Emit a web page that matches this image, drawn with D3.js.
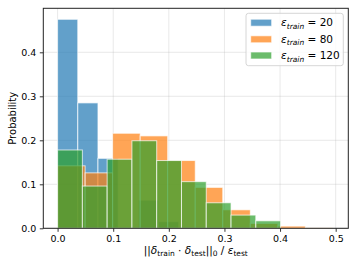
<!DOCTYPE html>
<html>
<head>
<meta charset="utf-8">
<script src="https://cdn.jsdelivr.net/npm/d3@7"></script>
<style>
  body { margin: 0; background: #fff; }
  svg { display: block; font-family: "DejaVu Sans", sans-serif; }
</style>
</head>
<body>
<svg id="chart" width="357" height="268"></svg>
<script>
// ---- data ----
const seriesNames = ["20", "80", "120"];
const seriesColors = ["#1f77b4", "#ff7f0e", "#2ca02c"];

const edgesBlue = [0, 0.0363, 0.0726, 0.1089, 0.1452, 0.1815, 0.2178];
const probBlue = [0.475, 0.285, 0.159, 0.0, 0.064, 0.015];

const edgesOrange = [0, 0.0495, 0.099, 0.1485, 0.198, 0.2475, 0.297, 0.3465, 0.396, 0.4455, 0.495];
const probOrange = [0.142, 0.126, 0.216, 0.210, 0.154, 0.093, 0.042, 0.011, 0.005, 0.001];

const edgesGreen = [0, 0.04455, 0.0891, 0.13365, 0.1782, 0.22275, 0.2673, 0.31185, 0.3564, 0.40095, 0.4455];
const probGreen = [0.178, 0.096, 0.157, 0.199, 0.154, 0.106, 0.058, 0.030, 0.017, 0.0];

const xTicks = [0.0, 0.1, 0.2, 0.3, 0.4, 0.5];
const yTicks = [0.0, 0.1, 0.2, 0.3, 0.4];

// ---- layout ----
const svg = d3.select("#chart");
const L = 43.3, R = 348.3, T = 8.3, B = 228.3;
const x = d3.scaleLinear().domain([-0.0257, 0.5227]).range([L, R]);
const y = d3.scaleLinear().domain([0, 0.5]).range([B, T]);

// grid
const grid = svg.append("g");
grid.selectAll(".gx").data(xTicks).enter().append("line")
  .attr("x1", d => x(d)).attr("x2", d => x(d)).attr("y1", T).attr("y2", B)
  .attr("stroke", "#b0b0b0").attr("stroke-opacity", 0.35).attr("stroke-width", 0.8);
grid.selectAll(".gy").data(yTicks).enter().append("line")
  .attr("y1", d => y(d)).attr("y2", d => y(d)).attr("x1", L).attr("x2", R)
  .attr("stroke", "#b0b0b0").attr("stroke-opacity", 0.35).attr("stroke-width", 0.8);

// histograms
const series = [
  { edges: edgesBlue, probs: probBlue, color: seriesColors[0] },
  { edges: edgesOrange, probs: probOrange, color: seriesColors[1] },
  { edges: edgesGreen, probs: probGreen, color: seriesColors[2] }
];
series.forEach(s => {
  const bins = s.probs.map((p, i) => ({ x0: s.edges[i], x1: s.edges[i + 1], p }));
  svg.append("g").selectAll("rect").data(bins.filter(b => b.p > 0)).enter().append("rect")
    .attr("x", d => x(d.x0))
    .attr("width", d => x(d.x1) - x(d.x0))
    .attr("y", d => y(d.p))
    .attr("height", d => y(0) - y(d.p))
    .attr("fill", s.color).attr("fill-opacity", 0.7)
    .attr("stroke", "#ffffff").attr("stroke-opacity", 0.7).attr("stroke-width", 1);
});

// axes
const xAxis = d3.axisBottom(x).tickValues(xTicks).tickFormat(d3.format(".1f")).tickSizeOuter(0).tickSize(3.5).tickPadding(3.5);
const yAxis = d3.axisLeft(y).tickValues(yTicks).tickFormat(d3.format(".1f")).tickSizeOuter(0).tickSize(3.5).tickPadding(3.5);
const gx = svg.append("g").attr("transform", `translate(0,${B})`).call(xAxis);
const gy = svg.append("g").attr("transform", `translate(${L},0)`).call(yAxis);
[gx, gy].forEach(g => {
  g.select(".domain").remove();
  g.selectAll("text").attr("font-family", "DejaVu Sans").attr("font-size", 9.5).attr("fill", "#000");
  g.selectAll("line").attr("stroke", "#000").attr("stroke-width", 0.8);
});

// frame
svg.append("rect").attr("x", L).attr("y", T).attr("width", R - L).attr("height", B - T)
  .attr("fill", "none").attr("stroke", "#222").attr("stroke-width", 1);

// y label
svg.append("text").attr("transform", `translate(15.8,${(T + B) / 2}) rotate(-90)`)
  .attr("text-anchor", "middle").attr("font-size", 10).text("Probability");

// x label
const xl = svg.append("text").attr("x", (L + R) / 2).attr("y", 254).attr("text-anchor", "middle").attr("font-size", 10.5);
xl.append("tspan").text("||");
xl.append("tspan").attr("font-style", "italic").text("δ");
xl.append("tspan").attr("font-size", 7.5).attr("dy", 2).text("train");
xl.append("tspan").attr("dy", -2).text(" · ");
xl.append("tspan").attr("font-style", "italic").text("δ");
xl.append("tspan").attr("font-size", 7.5).attr("dy", 2).text("test");
xl.append("tspan").attr("dy", -2).text("||");
xl.append("tspan").attr("font-size", 7.5).attr("dy", 2).text("0");
xl.append("tspan").attr("dy", -2).text(" / ");
xl.append("tspan").attr("font-style", "italic").text("ε");
xl.append("tspan").attr("font-size", 7.5).attr("dy", 2).text("test");

// legend
const lg = svg.append("g");
lg.append("rect").attr("x", 246).attr("y", 13.3).attr("width", 97.3).attr("height", 52.4)
  .attr("rx", 2.5).attr("fill", "#fff").attr("fill-opacity", 0.8)
  .attr("stroke", "#cccccc").attr("stroke-width", 0.8);
const rowsY = [22.7, 39.3, 55.5];
seriesNames.forEach((n, i) => {
  lg.append("rect").attr("x", 250.7).attr("y", rowsY[i] - 3.5).attr("width", 21).attr("height", 7)
    .attr("fill", seriesColors[i]).attr("fill-opacity", 0.7)
    .attr("stroke", "#fff").attr("stroke-opacity", 0.7).attr("stroke-width", 1);
  const t = lg.append("text").attr("x", 281).attr("y", rowsY[i] + 3.6).attr("font-size", 10.5);
  t.append("tspan").attr("font-style", "italic").text("ε");
  t.append("tspan").attr("font-style", "italic").attr("font-size", 7.5).attr("dy", 2.5).text("train");
  t.append("tspan").attr("dy", -2.5).text(" = " + n);
});
</script>
</body>
</html>
